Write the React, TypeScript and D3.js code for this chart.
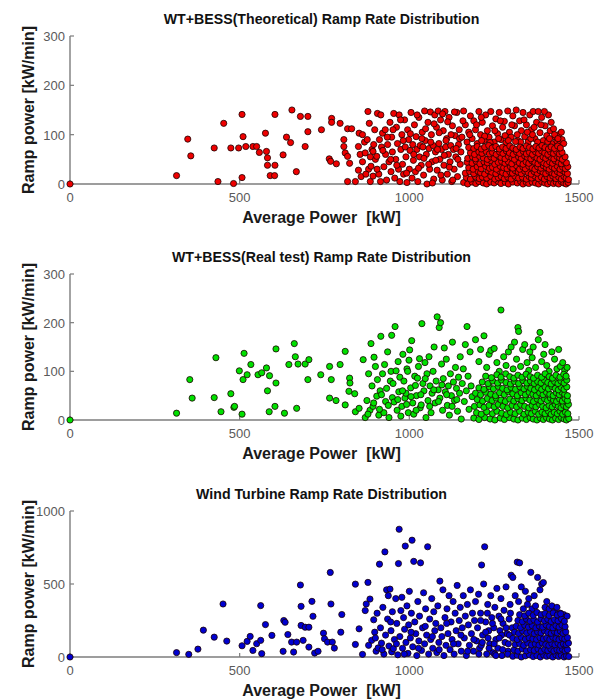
import React from 'react';
import * as d3 from 'd3';

// Axis ticks
const powerTicks = [0, 500, 1000, 1500];
const bessRampTicks = [0, 100, 200, 300];
const turbineRampTicks = [0, 500, 1000];

// [average power kW, ramp power kW/min]
const theoreticalPoints: [number, number][] = [
  [0,0],[314,17],[347,91],[356,57],[425,73],[436,5],[453,123],[474,73],[482,1],[497,73],[507,13],[507,141],[510,96],[518,76],[539,76],[550,76],[558,64],[576,103],[579,66],[582,53],[582,38],[590,17],[603,17],[604,38],[604,141],[628,59],[638,95],[650,84],[654,150],[667,25],[679,137],[693,76],[701,137],[701,106],[741,110],[764,51],[768,46],[771,133],[771,125],[785,41],[796,123],[807,90],[807,76],[811,63],[818,56],[818,112],[824,42],[818,5],[830,112],[841,5],
  [850,28],[850,76],[852,103],[855,60],[858,15],[862,45],[868,85],[870,63],[876,90],[878,147],[880,30],[882,123],[885,5],[887,36],[890,70],[893,66],[893,16],[898,110],[900,50],[904,56],[906,143],[910,20],[912,90],[916,140],[918,75],[921,103],[925,35],[929,110],[930,60],[933,8],[936,80],[940,45],[943,125],[946,25],[948,95],[950,65],[954,143],[957,12],[960,50],[962,115],[965,82],[968,30],[970,140],[972,5],[975,70],[978,100],[980,40],[983,20],[986,130],[988,75],[990,55],[993,3],[995,110],[998,90],[1000,30],[1002,68],[1005,145],[1008,12],[1010,80],[1012,48],[1015,120],[1018,25],[1020,96],[1022,70],[1025,5],[1028,135],[1030,55],[1032,78],[1035,38],[1038,105],[1040,75],[1042,18],[1045,148],[1047,88],[1050,60],[1052,0],[1055,125],[1058,72],[1060,30],[1062,146],[1065,100],[1067,45],[1070,78],[1072,10],[1075,140],[1077,65],[1080,115],[1082,28],[1085,148],[1087,82],[1090,50],[1092,130],[1095,70],[1097,8],[1100,108],[1102,38],[1105,147],[1107,75],[1110,92],[1112,20],[1115,60],[1117,135],[1120,45],[1122,78],[1125,5],[1127,118],[1130,70],[1132,30],[1135,98],[1137,55],[1140,145],[1142,15],[1145,80],[1147,110],[1150,40],[1152,65],
  [862,100],[872,20],[885,55],[895,80],[905,30],[915,5],[922,68],[935,95],[945,50],[952,110],[963,38],[974,130],[982,88],[992,22],[1003,102],[1013,60],[1023,140],[1027,32],[1037,92],[1043,52],[1048,112],[1057,40],[1063,85],[1068,2],[1073,122],[1078,48],[1083,70],[1088,104],[1093,18],[1098,142],[1103,58],[1108,88],[1113,126],[1118,34],[1123,100],[1128,8],[1133,146],[1138,72],[1143,50],[1148,92],
  [1155,95],[1160,148],[1165,120],[1170,85],[1175,105],[1180,138],[1185,92],[1190,128],[1195,110],[1200,82],[1205,147],[1210,100],[1215,125],[1220,88],[1225,140],[1230,108],[1235,95],[1240,147],[1245,118],[1250,85],[1255,132],[1260,102],[1265,145],[1270,90],[1275,115],[1280,127],[1285,84],[1290,148],[1295,105],[1300,95],[1305,138],[1310,118],[1315,150],[1320,88],[1325,128],[1330,108],[1335,145],[1340,96],[1345,120],[1350,85],[1355,140],[1360,110],[1365,147],[1370,92],[1375,125],[1380,147],[1385,104],[1390,135],[1395,88],[1400,118],[1405,98],[1410,140],[1415,108],[1420,82],[1425,112],[1430,95],[1435,87],[1440,100],[1445,84],[1450,90],[1455,82],
  [1158,128],[1178,100],[1198,120],[1212,135],[1222,97],[1238,84],[1252,108],[1268,128],[1282,98],[1292,88],[1302,120],[1318,100],[1328,85],[1338,130],[1348,105],[1358,92],[1368,115],[1378,85],[1388,120],[1398,147],[1408,86],[1418,125],[1428,100],[1438,92],[1448,105],[1213,88],[1263,92],[1313,86],[1363,100],[1413,92],
  [1160,3],[1172,0],[1185,4],[1196,1],[1205,5],[1218,2],[1228,0],[1240,4],[1250,2],[1262,5],[1270,1],[1283,3],[1292,0],[1305,4],[1318,2],[1328,5],[1335,0],[1345,3],[1352,1],[1362,4],[1372,2],[1381,0],[1390,5],[1399,2],[1408,0],[1416,4],[1425,1],[1433,3],[1440,0],[1448,5],[1455,2],[1462,0],[1468,3],
  [1168,13],[1180,10],[1195,15],[1206,11],[1215,14],[1228,12],[1240,16],[1252,10],[1262,13],[1271,15],[1280,11],[1290,14],[1300,10],[1311,16],[1322,12],[1333,14],[1345,10],[1353,15],[1360,12],[1370,16],[1380,11],[1389,14],[1398,10],[1406,15],[1415,12],[1423,16],[1432,11],[1440,14],[1448,10],[1456,15],[1462,12],[1469,9],
  [1165,22],[1178,25],[1190,21],[1202,26],[1210,23],[1222,20],[1232,27],[1243,24],[1255,21],[1266,26],[1275,23],[1285,20],[1296,25],[1304,22],[1312,27],[1321,24],[1330,21],[1340,26],[1350,23],[1359,20],[1368,25],[1377,22],[1385,27],[1394,24],[1402,21],[1411,26],[1420,23],[1428,20],[1436,25],[1444,22],[1452,27],[1459,24],[1466,21],
  [1175,33],[1188,30],[1200,35],[1212,31],[1225,36],[1236,32],[1245,34],[1257,30],[1268,36],[1278,33],[1288,31],[1298,35],[1305,32],[1316,37],[1325,30],[1335,34],[1342,31],[1352,36],[1362,33],[1370,30],[1378,35],[1388,32],[1395,37],[1404,33],[1412,30],[1420,35],[1428,32],[1436,36],[1444,30],[1452,34],[1460,31],[1467,35],
  [1170,44],[1185,42],[1197,46],[1208,41],[1220,45],[1230,43],[1241,47],[1252,40],[1262,44],[1272,46],[1282,42],[1292,45],[1302,41],[1315,46],[1324,43],[1335,40],[1344,45],[1352,42],[1361,47],[1370,44],[1379,41],[1388,46],[1396,43],[1405,40],[1413,45],[1422,42],[1430,47],[1440,44],[1448,41],[1456,46],[1463,43],
  [1172,52],[1186,55],[1195,51],[1207,56],[1218,53],[1230,50],[1240,55],[1250,52],[1262,57],[1270,54],[1282,51],[1292,56],[1302,53],[1310,50],[1322,55],[1330,52],[1340,57],[1348,54],[1358,51],[1367,56],[1376,53],[1385,50],[1394,55],[1402,52],[1410,57],[1418,54],[1426,51],[1435,56],[1443,53],[1451,50],[1459,55],
  [1180,63],[1192,60],[1205,65],[1214,62],[1226,66],[1236,61],[1245,64],[1256,60],[1266,65],[1276,62],[1286,67],[1295,63],[1306,60],[1316,65],[1325,62],[1336,66],[1345,61],[1354,64],[1363,60],[1372,65],[1381,62],[1390,67],[1399,63],[1408,60],[1416,65],[1425,62],[1434,66],[1442,61],[1450,64],
  [1175,74],[1190,72],[1200,76],[1212,71],[1222,75],[1234,78],[1244,73],[1255,76],[1265,71],[1275,75],[1285,72],[1296,77],[1305,73],[1315,70],[1326,75],[1335,72],[1345,77],[1354,74],[1364,71],[1373,76],[1382,73],[1391,78],[1400,74],[1410,71],[1418,75],[1428,72],[1437,77],[1445,73],
];

const realTestPoints: [number, number][] = [
  [0,0],[314,14],[353,83],[360,45],[425,46],[445,17],[430,128],[474,54],[483,26],[485,28],[499,101],[507,12],[510,83],[513,137],[522,93],[533,114],[554,93],[565,97],[579,107],[582,60],[587,17],[588,91],[604,28],[607,146],[607,76],[632,14],[645,114],[661,157],[664,130],[668,24],[672,115],[693,115],[701,83],[704,124],[739,93],[765,110],[765,45],[770,83],[784,40],[796,114],[811,141],[811,31],[822,59],[824,86],[825,76],[839,54],[841,17],[852,24],[864,124],[870,5],
  [875,40],[880,95],[884,20],[887,157],[890,70],[893,28],[896,129],[900,110],[904,49],[906,83],[910,10],[914,60],[916,172],[918,52],[921,95],[925,15],[927,114],[930,38],[933,65],[936,140],[940,5],[944,80],[946,100],[948,174],[950,46],[955,37],[958,192],[961,101],[964,20],[967,120],[969,58],[972,88],[975,8],[978,28],[981,135],[984,80],[987,45],[990,55],[993,105],[995,100],[997,15],[999,123],[1001,144],[1004,66],[1007,163],[1010,35],[1013,12],[1016,90],[1018,71],[1021,50],[1024,86],[1027,110],[1030,126],[1032,25],[1035,31],[1037,198],[1040,75],[1043,60],[1046,118],[1049,5],[1052,95],[1055,40],[1058,130],[1061,70],[1064,15],[1067,55],[1070,100],[1073,150],[1076,35],[1079,80],[1082,212],[1085,62],[1088,190],[1090,45],[1092,200],[1095,115],[1098,20],[1100,85],[1103,148],[1106,58],[1109,125],[1112,30],[1115,70],[1118,10],[1121,95],[1124,50],[1127,160],[1130,78],[1133,40],[1136,108],[1139,65],[1142,18],[1145,88],[1148,55],[1150,130],[1153,2],[1156,75],[1159,105],[1162,38],[1165,155],[1168,60],[1170,192],[1173,90],[1176,22],[1179,140],[1182,70],[1185,48],
  [878,12],[895,35],[912,22],[938,30],[952,75],[966,42],[980,60],[992,32],[1005,48],[1020,20],[1034,52],[1047,85],[1060,28],[1072,62],[1086,38],[1096,72],[1110,52],[1126,28],[1140,42],
  [1195,165],[1205,120],[1210,145],[1220,173],[1228,108],[1235,135],[1240,143],[1250,147],[1258,118],[1265,100],[1270,226],[1278,130],[1285,112],[1292,140],[1300,150],[1306,105],[1310,160],[1316,125],[1320,190],[1322,182],[1328,110],[1334,145],[1340,155],[1347,118],[1352,102],[1355,140],[1362,128],[1365,150],[1372,108],[1380,165],[1385,180],[1390,120],[1396,135],[1400,155],[1405,112],[1412,100],[1420,140],[1428,125],[1435,105],[1440,145],[1445,110],[1452,118],[1458,102],[1465,108],
  [1190,4],[1205,1],[1222,5],[1238,2],[1252,0],[1268,4],[1280,1],[1295,5],[1308,2],[1320,0],[1333,4],[1345,1],[1356,5],[1365,2],[1376,0],[1386,4],[1395,1],[1404,5],[1413,2],[1422,0],[1431,4],[1440,1],[1448,5],[1456,2],[1463,0],[1470,3],
  [1198,15],[1212,12],[1228,17],[1245,13],[1258,18],[1272,14],[1286,11],[1298,16],[1312,13],[1325,18],[1338,12],[1350,16],[1360,13],[1371,18],[1381,12],[1391,16],[1400,13],[1410,18],[1418,12],[1427,16],[1436,13],[1444,18],[1452,12],[1460,16],[1467,13],
  [1192,28],[1208,31],[1220,26],[1235,30],[1250,27],[1262,32],[1276,28],[1290,25],[1303,30],[1316,27],[1328,32],[1340,28],[1352,25],[1362,30],[1373,27],[1384,32],[1393,28],[1403,25],[1412,30],[1421,27],[1430,32],[1439,28],[1447,25],[1455,30],[1463,27],[1469,32],
  [1200,42],[1216,39],[1230,44],[1244,40],[1256,45],[1270,41],[1283,38],[1296,43],[1308,39],[1320,44],[1332,40],[1344,45],[1355,41],[1366,38],[1377,43],[1388,39],[1398,44],[1407,40],[1416,45],[1425,41],[1434,38],[1443,43],[1451,39],[1459,44],[1466,40],
  [1195,55],[1210,52],[1225,57],[1240,53],[1254,50],[1266,56],[1280,52],[1292,58],[1305,54],[1318,50],[1330,56],[1342,52],[1353,57],[1364,53],[1374,50],[1384,56],[1394,52],[1404,57],[1414,53],[1424,50],[1433,56],[1442,52],[1450,57],[1458,53],[1466,50],
  [1205,66],[1220,63],[1236,68],[1248,64],[1262,69],[1275,65],[1288,62],[1300,67],[1313,63],[1326,68],[1338,64],[1348,69],[1358,65],[1369,62],[1380,67],[1390,63],[1400,68],[1410,64],[1420,69],[1430,65],[1439,62],[1448,67],[1456,63],[1464,68],
  [1215,78],[1232,75],[1246,80],[1260,76],[1272,82],[1285,77],[1298,74],[1310,79],[1322,75],[1335,81],[1346,76],[1357,80],[1368,75],[1378,79],[1388,76],[1398,82],[1408,77],[1418,74],[1428,79],[1438,75],[1447,80],[1456,76],[1464,82],
  [1225,90],[1242,87],[1258,93],[1270,88],[1284,95],[1296,89],[1308,86],[1320,92],[1332,88],[1344,94],[1356,89],[1366,86],[1378,92],[1390,88],[1400,95],[1412,89],[1422,86],[1432,92],[1444,88],[1455,94],[1462,90],
];

const turbinePoints: [number, number][] = [
  [0,0],[314,30],[350,18],[377,54],[393,184],[425,136],[451,363],[462,109],[507,77],[522,107],[531,141],[539,45],[550,91],[562,352],[562,114],[565,23],[576,222],[595,148],[628,39],[630,250],[634,238],[642,154],[653,102],[659,34],[668,102],[679,493],[681,347],[681,216],[687,114],[693,204],[704,204],[704,68],[713,381],[716,279],[721,27],[731,39],[747,163],[750,125],[759,102],[767,579],[769,363],[773,102],[779,61],[798,170],[801,291],[841,499],[841,86],[852,193],[862,18],
  [870,318],[873,363],[878,511],[884,397],[889,114],[895,255],[898,170],[902,40],[905,300],[908,62],[912,636],[915,200],[918,95],[922,340],[925,20],[928,720],[930,150],[933,460],[936,260],[938,420],[940,75],[943,465],[946,180],[948,35],[950,310],[953,57],[956,120],[960,400],[963,230],[966,15],[968,640],[970,875],[972,140],[975,318],[978,409],[980,60],[983,270],[986,190],[988,760],[990,100],[993,350],[996,25],[998,220],[1000,450],[1003,130],[1006,300],[1008,800],[1010,70],[1013,655],[1016,240],[1019,160],[1022,10],[1025,380],[1028,110],[1030,280],[1033,645],[1036,45],[1039,200],[1042,440],[1045,90],[1048,330],[1051,150],[1054,755],[1057,20],[1060,260],[1063,120],[1066,400],[1069,60],[1072,310],[1075,180],[1078,230],[1081,30],[1084,350],[1087,100],[1090,520],[1093,200],[1096,140],[1099,460],[1102,10],[1105,270],[1108,80],[1111,330],[1114,160],[1117,420],[1120,50],[1123,240],[1126,120],[1129,380],[1132,20],[1135,300],[1138,180],[1141,490],[1144,90],[1147,250],[1150,340],[1153,40],[1156,200],[1159,420],[1162,130],[1165,280],[1168,10],[1171,360],[1174,220],[1177,80],[1180,460],[1183,160],[1186,300],[1189,40],[1192,250],[1195,380],[1198,110],[1201,200],[1204,430],[1207,60],[1210,300],[1213,630],[1216,150],[1219,500],[1222,755],[1225,240],[1228,20],[1231,360],[1234,180],[1237,90],[1240,420],[1243,270],[1246,30],[1249,200],[1252,340],[1255,120],[1258,470],[1261,60],[1264,280],[1267,180],[1270,400],[1273,10],[1276,230],[1279,320],[1282,100],[1285,480],[1288,160],[1291,40],[1294,260],[1297,360],[1300,560],[1303,200],
  [880,80],[900,130],[920,50],[945,240],[962,90],[985,20],[1005,170],[1027,60],[1047,210],[1068,140],[1088,50],[1110,230],[1130,90],[1152,150],[1172,40],[1190,120],[1212,80],[1232,130],[1252,20],[1272,150],[1292,90],
  [1205,20],[1215,100],[1225,170],[1235,60],[1245,230],[1255,10],[1265,130],[1275,50],[1285,200],[1295,150],[1210,250],[1230,300],[1250,90],[1270,260],[1290,20],[1298,300],
  [1305,545],[1312,420],[1318,650],[1322,380],[1325,645],[1330,480],[1336,330],[1342,450],[1348,360],[1352,400],[1358,580],[1362,330],[1368,420],[1372,350],[1378,545],[1385,460],[1390,500],[1395,510],[1400,340],[1405,380],[1412,330],[1420,350],[1428,310],[1435,340],[1445,300],[1455,290],[1465,280],
  [1305,5],[1318,12],[1330,0],[1342,8],[1354,15],[1365,3],[1376,10],[1386,0],[1396,13],[1405,5],[1414,10],[1423,0],[1432,14],[1440,4],[1448,11],[1456,0],[1463,8],[1470,3],
  [1308,48],[1320,40],[1333,55],[1345,42],[1357,50],[1368,45],[1379,55],[1389,40],[1399,52],[1408,44],[1417,55],[1426,41],[1435,50],[1443,46],[1451,54],[1459,42],[1466,50],
  [1312,85],[1325,92],[1337,80],[1349,95],[1360,83],[1371,90],[1382,82],[1392,95],[1402,86],[1411,80],[1420,92],[1429,84],[1438,95],[1446,81],[1454,90],[1462,85],[1469,95],
  [1305,128],[1318,120],[1330,135],[1342,122],[1353,132],[1364,125],[1375,120],[1385,133],[1395,124],[1405,130],[1414,121],[1423,135],[1432,126],[1441,120],[1450,130],[1458,124],[1466,133],
  [1310,170],[1322,162],[1334,178],[1346,165],[1357,175],[1368,160],[1378,172],[1388,165],[1398,180],[1408,168],[1418,162],[1427,175],[1436,165],[1445,178],[1453,162],[1461,172],
  [1315,210],[1328,202],[1340,218],[1351,205],[1362,215],[1373,200],[1383,212],[1393,205],[1403,220],[1413,208],[1423,200],[1432,215],[1441,205],[1450,218],[1459,208],
  [1320,250],[1333,242],[1345,260],[1356,245],[1367,255],[1378,240],[1388,262],[1398,248],[1408,258],[1418,243],[1428,255],[1438,248],[1448,262],[1457,245],
  [1325,290],[1340,282],[1352,300],[1365,285],[1376,305],[1388,290],[1400,298],[1412,284],[1424,302],[1436,288],[1446,296],
];

const panelTitles = [
  'WT+BESS(Theoretical) Ramp Rate Distribution',
  'WT+BESS(Real test) Ramp Rate Distribution',
  'Wind Turbine Ramp Rate Distribution',
];
const xAxisTitle = 'Average Power  [kW]';
const yAxisTitle = 'Ramp power [kW/min]';

const FONT = 'Arial, "Liberation Sans", Helvetica, sans-serif';
const AXIS_COLOR = '#7c7c7c';
const LEFT = 70;
const RIGHT = 579;

type PanelProps = {
  title: string;
  points: [number, number][];
  fill: string;
  yTicks: number[];
  top: number;
  bottom: number;
};

function Panel({ title, points, fill, yTicks, top, bottom }: PanelProps) {
  const x = d3.scaleLinear().domain([0, 1500]).range([LEFT, RIGHT]);
  const y = d3.scaleLinear().domain([0, yTicks[yTicks.length - 1]]).range([bottom, top]);
  const cx = (LEFT + RIGHT) / 2 - 3;
  const cy = (top + bottom) / 2;
  return (
    <g>
      <text
        transform={`translate(${cx},${top - 12}) scale(0.946,1)`}
        textAnchor="middle"
        fontFamily={FONT}
        fontWeight="bold"
        fontSize={15}
        fill="#111"
      >
        {title}
      </text>
      {/* axes */}
      <line x1={LEFT} x2={LEFT} y1={top} y2={bottom} stroke={AXIS_COLOR} strokeWidth={1.4} />
      <line x1={LEFT} x2={RIGHT} y1={bottom} y2={bottom} stroke={AXIS_COLOR} strokeWidth={1.4} />
      {yTicks.map((t) => (
        <g key={`y${t}`}>
          <line x1={LEFT} x2={LEFT + 4} y1={y(t)} y2={y(t)} stroke={AXIS_COLOR} strokeWidth={1.2} />
          <text x={LEFT - 5} y={y(t) + 5} textAnchor="end" fontFamily={FONT} fontSize={13} fill="#5a5a5a">
            {t}
          </text>
        </g>
      ))}
      {powerTicks.map((t) => (
        <g key={`x${t}`}>
          <line x1={x(t)} x2={x(t)} y1={bottom} y2={bottom - 4} stroke={AXIS_COLOR} strokeWidth={1.2} />
          <text x={x(t)} y={bottom + 18} textAnchor="middle" fontFamily={FONT} fontSize={13} fill="#5a5a5a">
            {t}
          </text>
        </g>
      ))}
      <text
        x={cx}
        y={bottom + 39}
        textAnchor="middle"
        fontFamily={FONT}
        fontWeight="bold"
        fontSize={16}
        fill="#1a1a1a"
        style={{ whiteSpace: 'pre' }}
      >
        {xAxisTitle}
      </text>
      <text
        transform={`translate(34,${cy}) rotate(-90)`}
        textAnchor="middle"
        fontFamily={FONT}
        fontWeight="bold"
        fontSize={16}
        fill="#1a1a1a"
      >
        {yAxisTitle}
      </text>
      {/* markers */}
      {points.map(([p, r], i) => (
        <circle key={i} cx={x(p)} cy={y(r)} r={3.1} fill={fill} stroke="#1a0000" strokeWidth={0.8} />
      ))}
    </g>
  );
}

export default function App() {
  return (
    <svg
      width={606}
      height={700}
      viewBox="0 0 606 700"
      style={{ position: 'absolute', left: 0, top: 0, background: '#fff' }}
    >
      <rect width={606} height={700} fill="#fff" />
      <Panel title={panelTitles[0]} points={theoreticalPoints} fill="#ee0000" yTicks={bessRampTicks} top={36} bottom={184} />
      <Panel title={panelTitles[1]} points={realTestPoints} fill="#00e000" yTicks={bessRampTicks} top={274} bottom={420} />
      <Panel title={panelTitles[2]} points={turbinePoints} fill="#0000d0" yTicks={turbineRampTicks} top={511} bottom={657} />
    </svg>
  );
}
